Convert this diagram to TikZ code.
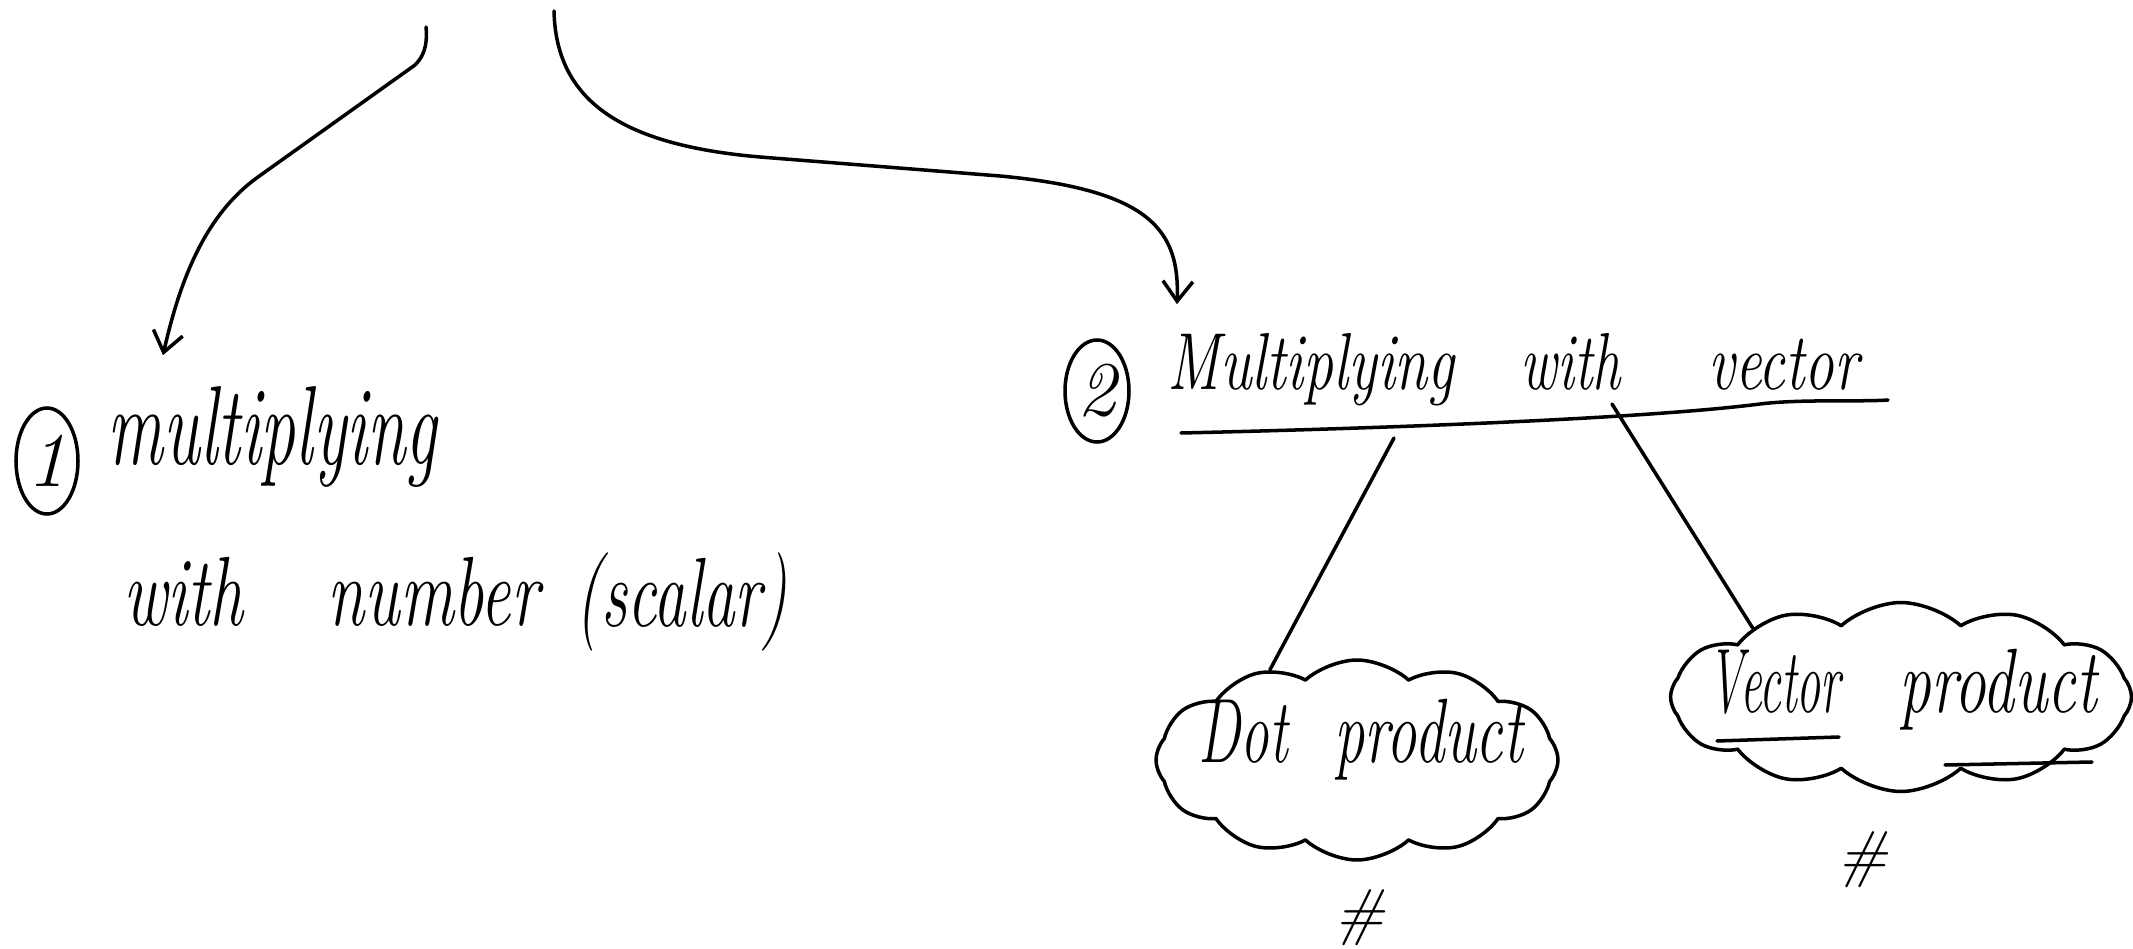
\documentclass[tikz,border=0pt]{standalone}
\usetikzlibrary{shapes.geometric,shapes.symbols,arrows.meta,calc}
\newcommand{\hwbox}[2]{\resizebox{#1}{\height}{#2}}
\begin{document}
\begin{tikzpicture}[x=0.1mm,y=-0.1mm, line width=1pt, line cap=round, line join=round,
  hw/.style={font=\fontsize{32}{36}\selectfont\itshape, inner sep=0pt, anchor=base west},
  hwmid/.style={hw, font=\fontsize{28}{32}\selectfont\itshape},
  hwsmall/.style={hw, font=\fontsize{23}{28}\selectfont\itshape},
  hwcloud/.style={hw, font=\fontsize{26}{30}\selectfont\itshape},
  num/.style={ellipse, draw, inner sep=0pt, font=\fontsize{22}{26}\selectfont\itshape},
  blob/.style={cloud, draw, cloud puffs=12, cloud puff arc=85, cloud ignores aspect, inner sep=0pt},
  arr/.style={-{Straight Barb[length=2mm,width=3mm]}},
  hashmark/.style={font=\fontsize{18}{22}\selectfont\itshape, inner sep=0pt}]
\useasboundingbox (0,0) rectangle (2133,949);

% left branch
\node[num, minimum width=6.2mm, minimum height=10.6mm] (c1) at (47,461) {1};
\node[hw] (m1) at (106,465) {\hwbox{32.9mm}{multiplying}};
\node[hwmid] (m1b) at (122,626) {\hwbox{12mm}{with}\hspace{8.4mm}\hwbox{21.1mm}{number}\hspace{3.7mm}\hwbox{21.2mm}{(scalar)}};

% right branch
\node[num, minimum width=6.4mm, minimum height=10.2mm] (c2) at (1097,391) {2};
\node[hwsmall] (m2) at (1166,390) {\hwbox{28.7mm}{Multiplying}\hspace{6.6mm}\hwbox{10mm}{with}\hspace{8.8mm}\hwbox{15mm}{vector}};
\coordinate (ul1) at (1181,433);
\coordinate (ul2) at (1888,400);
\draw (ul1) .. controls (1400,428) and (1650,418) .. (1760,404) .. controls (1800,399) and (1860,402) .. (ul2);

% clouds
\node[blob, minimum width=40.2mm, minimum height=20mm] (d1) at (1357,760) {};
\node[blob, minimum width=46.1mm, minimum height=18.9mm] (d2) at (1901,697) {};
\node[hwcloud] (t1) at (1197,762) {\hwbox{8.9mm}{Dot}\hspace{4.7mm}\hwbox{18.8mm}{product}};
\node[hwcloud] (t2) at (1707,712) {\hwbox{13.2mm}{Vector}\hspace{5.9mm}\hwbox{19.7mm}{product}};
\draw (1717,741) -- (1839,737);
\draw (1945,765) -- (2092,762);
\node[hashmark] (h1) at (1360,918) {\#};
\node[hashmark] (h2) at (1863,860) {\#};

% connectors
\coordinate (s3) at (1394,438);
\draw (s3) -- (d1.134);
\coordinate (s4) at (1612,404);
\draw (s4) -- (d2.155);

% arrows
\coordinate (s1) at (426,27);
\draw[arr] (s1) .. controls (428,48) and (422,58) .. (415,65) -- (258,177) .. controls (205,215) and (180,280) .. ($(m1.north west)+(57,-30)$);
\coordinate (s2) at (554,11);
\draw[arr] (s2) .. controls (556,100) and (620,145) .. (760,157) -- (1000,176) .. controls (1150,190) and (1180,230) .. ($(m2.north west)+(11,-28)$);
\end{tikzpicture}
\end{document}
